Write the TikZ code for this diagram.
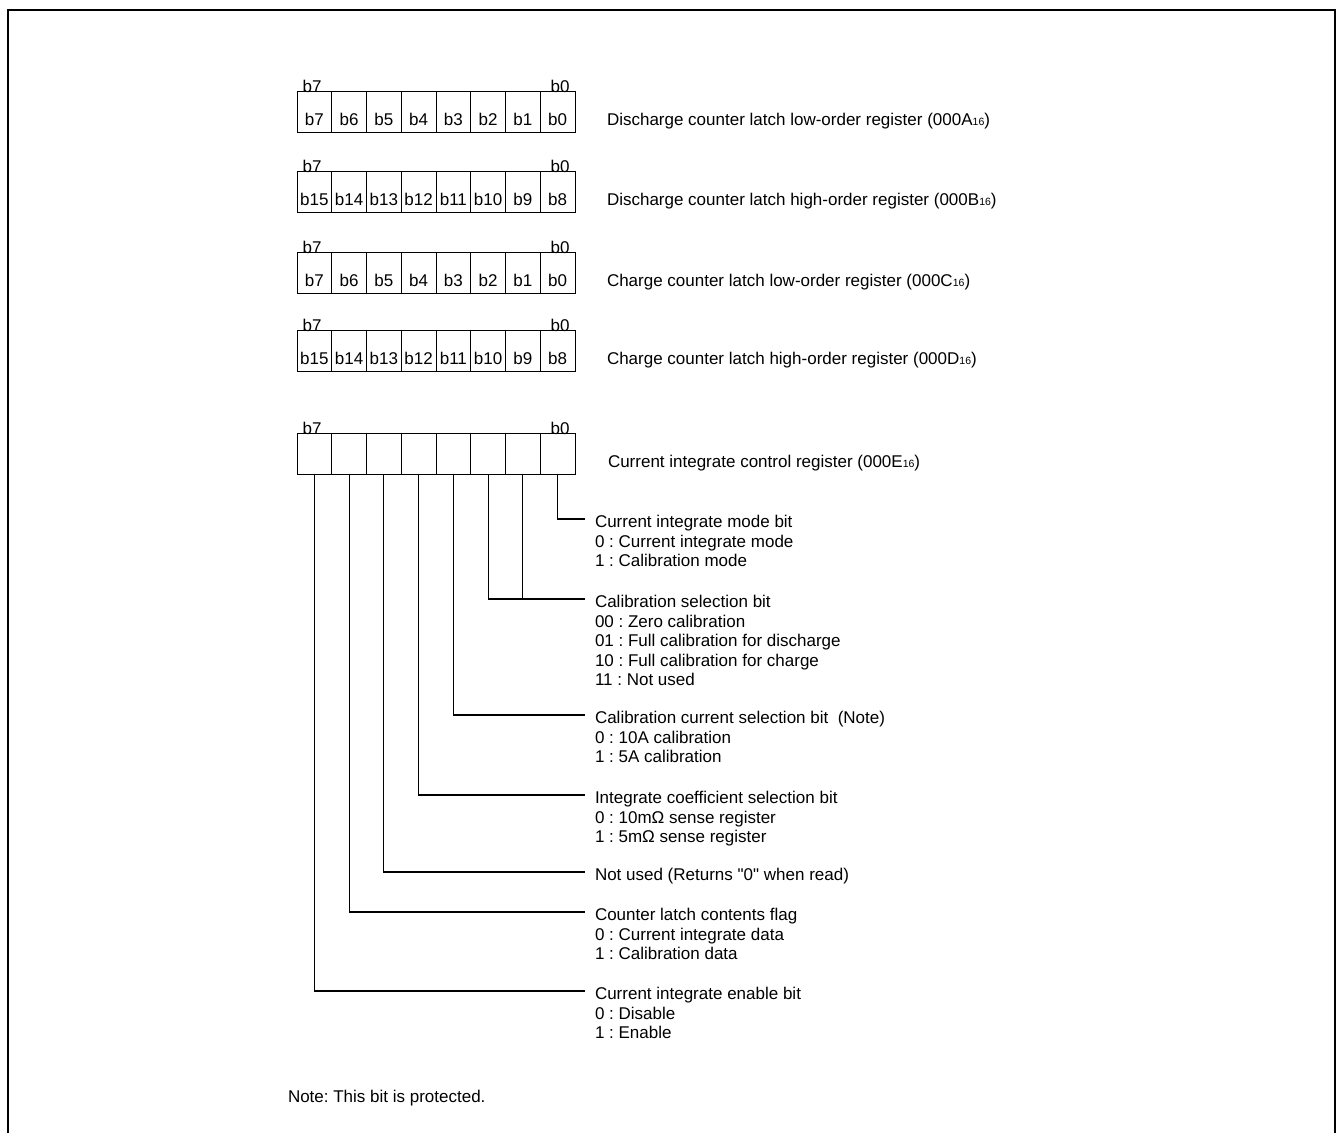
\documentclass[tikz,border=0pt]{standalone}
\usepackage{fontspec}
\setmainfont{Liberation Sans}
\newfontfamily\rawfont{Liberation Sans}
\frenchspacing
\begin{document}
\begin{tikzpicture}[x=1pt,y=-1pt,
  every node/.style={inner sep=0pt, outer sep=0pt, font=\fontsize{17}{19.5}\selectfont},
  cellbox/.style={draw, line width=1pt, minimum width=34.75pt, minimum height=41.5pt, anchor=north west},
  bitlbl/.style={anchor=base},
  celltxt/.style={anchor=base},
  regtxt/.style={anchor=base west},
  desc/.style={anchor=north west, align=left},
  conn/.style={line width=1.2pt}]
\useasboundingbox (0,0) rectangle (1339,1133);
\draw[line width=2.5pt] (8,1133) -- (8,10) -- (1335,10) -- (1335,1133);
\newcommand{\subsx}[1]{\raisebox{-0.5pt}{\fontsize{10.5}{10.5}\selectfont #1}}
% registers
\foreach \r/\top/\ttl/\a/\b/\c/\d/\e/\f/\g/\h in {
  1/91/{Discharge counter latch low-order register (000A\subsx{16})}/b7/b6/b5/b4/b3/b2/b1/b0,
  2/171/{Discharge counter latch high-order register (000B\subsx{16})}/b15/b14/b13/b12/b11/b10/b9/b8,
  3/252/{Charge counter latch low-order register (000C\subsx{16})}/b7/b6/b5/b4/b3/b2/b1/b0,
  4/330/{Charge counter latch high-order register (000D\subsx{16})}/b15/b14/b13/b12/b11/b10/b9/b8}{
  \foreach \t [count=\i from 0] in {\a,\b,\c,\d,\e,\f,\g,\h}{
    \node[cellbox] (r\r c\i) at ({297+34.75*\i},\top) {};
    \node[celltxt] (r\r t\i) at ({314.4+34.75*\i},\top+34) {\t};
  }
  \node[bitlbl] (r\r hi) at (312,\top+1) {b7};
  \node[bitlbl] (r\r lo) at (560,\top+1) {b0};
  \node[regtxt] (r\r name) at (607,\top+34) {\ttl};
}
% control register
\foreach \i in {0,...,7}{
  \node[cellbox] (c\i) at ({297+34.75*\i},433) {};
}
\node[bitlbl] (r5hi) at (312,434) {b7};
\node[bitlbl] (r5lo) at (560,434) {b0};
\node[regtxt] (r5name) at (608,467) {Current integrate control register (000E\subsx{16})};
% line ends
\coordinate (e0) at (585,519);
\coordinate (e1) at (585,599);
\coordinate (e2) at (585,715);
\coordinate (e3) at (585,795);
\coordinate (e4) at (585,872);
\coordinate (e5) at (585,912);
\coordinate (e6) at (585,991);
\draw[conn] (c7.south) |- (e0);
\draw[conn] (c5.south) |- (e1);
\draw[conn] (c6.south) -- (c6.south |- e1);
\draw[conn] (c4.south) |- (e2);
\draw[conn] (c3.south) |- (e3);
\draw[conn] (c2.south) |- (e4);
\draw[conn] (c1.south) |- (e5);
\draw[conn] (c0.south) |- (e6);
% descriptions
\node[desc] (d0) at (595,519-3.5) {Current integrate mode bit\\0 : Current integrate mode\\1 : Calibration mode};
\node[desc] (d1) at (595,599-3.5) {Calibration selection bit\\00 : Zero calibration\\01 : Full calibration for discharge\\10 : Full calibration for charge\\11 : Not used};
\node[desc] (d2) at (595,715-3.5) {Calibration current selection bit~~(Note)\\0 : 10A calibration\\1 : 5A calibration};
\node[desc] (d3) at (595,795-3.5) {Integrate coefficient selection bit\\0 : 10mΩ sense register\\1 : 5mΩ sense register};
\node[desc] (d4) at (595,872-3.5) {Not used (Returns {\rawfont"}0{\rawfont"} when read)};
\node[desc] (d5) at (595,912-3.5) {Counter latch contents flag\\0 : Current integrate data\\1 : Calibration data};
\node[desc] (d6) at (595,991-3.5) {Current integrate enable bit\\0 : Disable\\1 : Enable};
\node[anchor=base west] (note) at (288,1102) {Note: This bit is protected.};
\end{tikzpicture}
\end{document}
